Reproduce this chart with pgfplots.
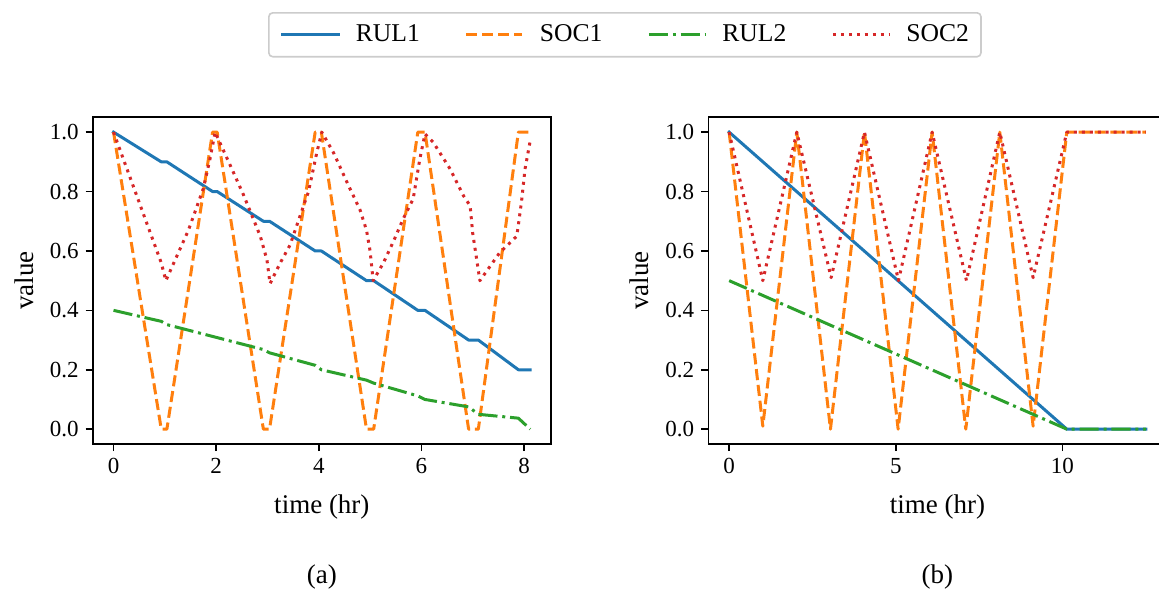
\documentclass[border=0pt]{standalone}
\usepackage{fontspec}
\setmainfont{Liberation Serif}
\usepackage{pgfplots}
\pgfplotsset{compat=1.18}

\definecolor{cBlue}{HTML}{1F77B4}
\definecolor{cOrange}{HTML}{FF7F0E}
\definecolor{cGreen}{HTML}{2CA02C}
\definecolor{cRed}{HTML}{D62728}

% 1 px of the reference = 0.5pt
\pgfplotsset{
  panel/.style={
    scale only axis,
    width=229.15pt, height=163.35pt,
    anchor=south west,
    ymin=-0.05, ymax=1.05,
    ytick={0,0.2,0.4,0.6,0.8,1.0},
    yticklabel style={/pgf/number format/.cd, fixed, fixed zerofill, precision=1},
    /pgf/number format/assume math mode=true,
    tick align=outside,
    major tick length=3.5pt,
    xtick pos=bottom, ytick pos=left,
    tick style={line width=0.8pt, black},
    axis line style={line width=0.8pt},
    tick label style={font=\fontsize{11.5}{13}\selectfont},
    every axis x label/.style={at={(axis description cs:0.5,-0.193)}, anchor=center,
      font=\fontsize{13.5}{16}\selectfont},
    every axis y label/.style={at={(axis description cs:-0.150,0.5)}, rotate=90, anchor=center,
      font=\fontsize{13.5}{16}\selectfont},
    xlabel={time (hr)}, ylabel={value},
  },
  rul1/.style={color=cBlue, line width=1.5pt, line cap=rect, line join=round},
  soc1/.style={color=cOrange, line width=1.5pt, line cap=butt, line join=round,
    dash pattern=on 5.55pt off 2.4pt},
  rul2/.style={color=cGreen, line width=1.5pt, line cap=butt, line join=round,
    dash pattern=on 9.6pt off 2.4pt on 1.5pt off 2.4pt},
  soc2/.style={color=cRed, line width=1.5pt, line cap=butt, line join=round,
    dash pattern=on 1.5pt off 2.475pt},
}

\begin{document}
\begin{tikzpicture}

% ---------- (a) ----------
\begin{axis}[
  panel,
  at={(46.35pt,-222pt)},
  xmin=-0.406, xmax=8.526,
  xtick={0,2,4,6,8},
  legend columns=4,
  legend cell align=left,
  legend image code/.code={\draw[#1] (0pt,0pt) -- (28pt,0pt);},
  legend style={
    at={(axis description cs:0.3825,1.3223)}, anchor=north west,
    draw=black!20, line width=0.8pt, rounded corners=2pt, fill=white,
    font=\fontsize{12.8}{15}\selectfont,
    inner xsep=6pt, inner ysep=4pt,
    nodes={inner xsep=0pt, inner ysep=2pt},
    /tikz/every odd column/.append style={column sep=8pt},
    /tikz/every even column/.append style={column sep=22.5pt},
  },
]
\addplot[rul1] coordinates {
  (0,1.0)(0.93,0.9)(1.04,0.9)(1.93,0.8)(2.02,0.8)(2.92,0.7)(3.04,0.7)
  (3.93,0.6)(4.05,0.6)(4.93,0.5)(5.07,0.5)(5.93,0.4)(6.07,0.4)
  (6.92,0.3)(7.11,0.3)(7.89,0.2)(8.12,0.2)
};
\addlegendentry{RUL1}
\addplot[soc1] coordinates {
  (0,1.0)(0.93,0)(1.04,0)(1.93,1.0)(2.02,1.0)(2.92,0)(3.04,0)
  (3.93,1.0)(4.05,1.0)(4.93,0)(5.07,0)(5.93,1.0)(6.07,1.0)
  (6.92,0)(7.11,0)(7.89,1.0)(8.12,1.0)
};
\addlegendentry{SOC1}
\addplot[rul2] coordinates {
  (0,0.40)(0.93,0.363)(1.04,0.352)(2.92,0.268)(3.04,0.257)
  (3.93,0.215)(4.05,0.20)(4.93,0.165)(5.07,0.155)(5.93,0.112)(6.07,0.10)
  (6.92,0.075)(7.11,0.05)(7.89,0.037)(8.12,0.0)
};
\addlegendentry{RUL2}
\addplot[soc2] coordinates {
  (0,1.0)(0.93,0.56)(1.02,0.5)(1.46,0.67)(1.75,0.81)(1.88,0.91)(1.98,1.0)
  (2.27,0.89)(2.53,0.79)(2.86,0.65)(2.99,0.57)(3.05,0.49)
  (3.25,0.56)(3.44,0.62)(3.64,0.72)(3.80,0.80)(3.96,0.93)(4.06,1.0)
  (4.29,0.93)(4.58,0.82)(4.80,0.74)(4.93,0.67)(5.0,0.6)(5.06,0.5)
  (5.26,0.56)(5.45,0.63)(5.65,0.71)(5.84,0.775)(5.97,0.91)(6.07,0.994)
  (6.23,0.966)(6.56,0.876)(6.82,0.786)(6.95,0.752)(7.0,0.66)(7.14,0.5)
  (7.53,0.595)(7.86,0.65)(7.95,0.764)(8.02,0.876)(8.12,0.97)
};
\addlegendentry{SOC2}
\end{axis}

% ---------- (b) ----------
\begin{axis}[
  panel,
  at={(354.15pt,-222pt)},
  xmin=-0.625, xmax=13.125,
  xtick={0,5,10},
]
\addplot[rul1] coordinates {(0,1.0)(10.13,0)(12.5,0)};
\addplot[soc1] coordinates {
  (0,1.0)(1.01,0.01)(2.03,1.0)(3.04,0)(4.06,1.0)(5.07,0)(6.09,1.0)
  (7.10,0)(8.12,1.0)(9.12,0.01)(10.13,1.0)(12.5,1.0)
};
\addplot[rul2] coordinates {(0,0.5)(10.13,0)(12.5,0)};
\addplot[soc2] coordinates {
  (0,1.0)(1.01,0.5)(2.03,1.0)(3.06,0.51)(4.06,1.0)(5.08,0.5)(6.09,1.0)
  (7.12,0.5)(8.12,1.0)(9.12,0.51)(10.13,1.0)(12.5,1.0)
};
\end{axis}

\node[font=\fontsize{13.5}{16}\selectfont] at (160.95pt,-288.3pt) {(a)};
\node[font=\fontsize{13.5}{16}\selectfont] at (468.7pt,-288.3pt) {(b)};

\pgfresetboundingbox
\path[use as bounding box] (0,0) rectangle (579.5pt,-294pt);
\end{tikzpicture}
\end{document}
